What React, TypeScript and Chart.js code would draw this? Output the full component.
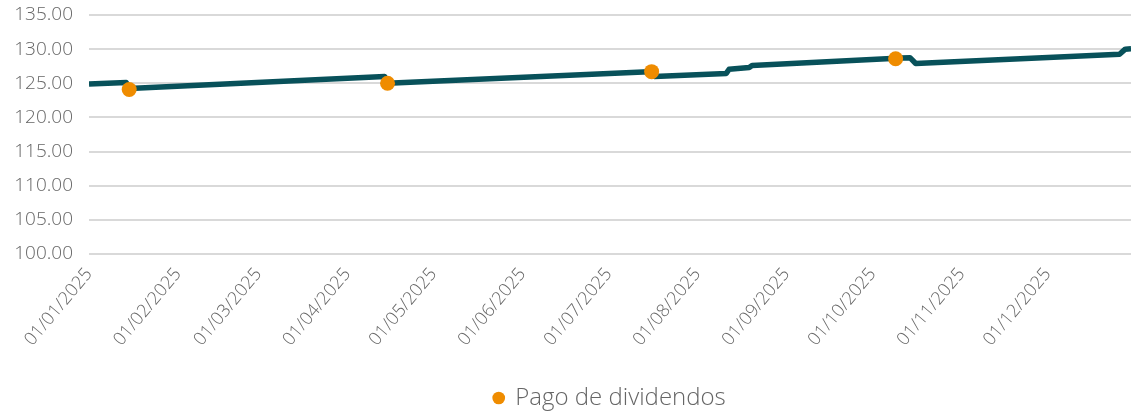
import React, { useEffect, useRef } from "react";
import { Chart, registerables } from "chart.js";

Chart.register(...registerables);

// Day index from 01/01/2025 (0 = 1 Jan)
const lineDays = [0, 13, 14, 103, 104, 195, 197, 222, 223, 230, 231, 283, 286, 288, 359, 361, 363];
const lineValues = [124.9, 125.1, 124.25, 126.0, 125.0, 126.7, 126.0, 126.45, 127.05, 127.3, 127.6, 128.7, 128.75, 127.9, 129.25, 130.0, 130.05];

const dividendDays = [14, 104, 196, 281];
const dividendValues = [124.1, 125.0, 126.7, 128.6];

const monthTickDays = [0, 31, 59, 90, 120, 151, 181, 212, 243, 273, 304, 334];
const monthTickLabels = [
  "01/01/2025", "01/02/2025", "01/03/2025", "01/04/2025", "01/05/2025", "01/06/2025",
  "01/07/2025", "01/08/2025", "01/09/2025", "01/10/2025", "01/11/2025", "01/12/2025",
];

const yTicks = [100, 105, 110, 115, 120, 125, 130, 135];

const FONT = "'Open Sans', 'Lato', sans-serif";
const TEXT = "#666666";

export default function App() {
  const ref = useRef<HTMLCanvasElement | null>(null);

  useEffect(() => {
    document.body.style.margin = "0";
    const canvas = ref.current;
    if (!canvas) return;
    const chart = new Chart(canvas, {
      type: "line",
      data: {
        datasets: [
          {
            label: "Precio",
            data: lineDays.map((d, i) => ({ x: d, y: lineValues[i] })),
            borderColor: "#08515a",
            backgroundColor: "#08515a",
            borderWidth: 5.5,
            pointRadius: 0,
            tension: 0,
            borderJoinStyle: "round",
            order: 2,
          },
          {
            label: "Pago de dividendos",
            data: dividendDays.map((d, i) => ({ x: d, y: dividendValues[i] })),
            showLine: false,
            backgroundColor: "#ef8c00",
            borderColor: "#ef8c00",
            pointRadius: 7.5,
            pointBorderWidth: 0,
            pointHoverRadius: 7.5,
            order: 1,
          },
        ],
      },
      options: {
        animation: false,
        responsive: false,
        maintainAspectRatio: false,
        layout: { autoPadding: false, padding: { top: 15, right: 0, left: 0, bottom: -8 } },
        plugins: {
          tooltip: { enabled: false },
          legend: {
            position: "bottom",
            fullSize: false,
            labels: {
              filter: (item) => item.text === "Pago de dividendos",
              usePointStyle: true,
              pointStyle: "circle",
              boxWidth: 9,
              boxHeight: 9,
              padding: 3,
              color: TEXT,
              font: { family: FONT, size: 24, weight: "300" },
            },
          },
        },
        scales: {
          x: {
            type: "linear",
            min: 0,
            max: 363,
            grid: { display: false },
            border: { display: false },
            afterBuildTicks: (scale) => {
              scale.ticks = monthTickDays.map((v) => ({ value: v }));
            },
            afterFit: (scale: any) => {
              scale.height = 129;
              scale.paddingRight = 0;
              scale.paddingLeft = 0;
            },
            ticks: {
              autoSkip: false,
              maxRotation: 50,
              minRotation: 50,
              padding: 2,
              color: TEXT,
              font: { family: FONT, size: 18, weight: "300" },
              callback: (v) => {
                const i = monthTickDays.indexOf(Number(v));
                return i >= 0 ? monthTickLabels[i] : "";
              },
            },
          },
          y: {
            min: 100,
            max: 135,
            border: { display: false },
            grid: { color: "#d9d9d9", lineWidth: 2, drawTicks: false },
            afterBuildTicks: (scale) => {
              scale.ticks = yTicks.map((v) => ({ value: v }));
            },
            afterFit: (scale: any) => {
              scale.width = 89;
              scale.paddingTop = 0;
              scale.paddingBottom = 0;
            },
            ticks: {
              padding: 16,
              color: TEXT,
              font: { family: FONT, size: 19, weight: "300" },
              callback: (v) => Number(v).toFixed(2),
            },
          },
        },
      },
    });
    return () => chart.destroy();
  }, []);

  return <canvas ref={ref} width={1131} height={412} style={{ display: "block" }} />;
}
